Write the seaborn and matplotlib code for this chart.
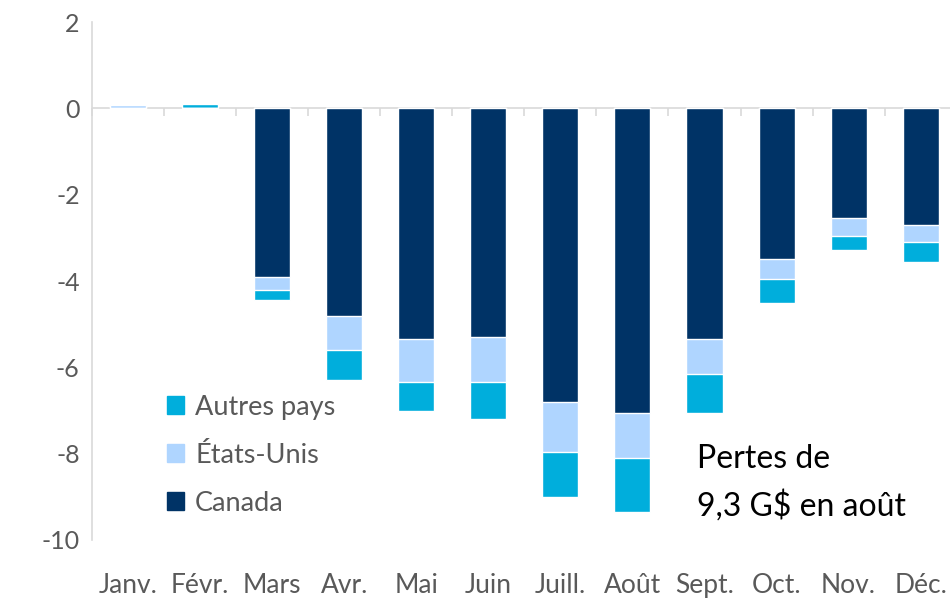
import numpy as np
import pandas as pd
import matplotlib
matplotlib.use("Agg")
import matplotlib.pyplot as plt
from matplotlib.patches import Patch
import seaborn as sns

# monthly losses by destination (G$)
months = ['Janv.', 'Févr.', 'Mars', 'Avr.', 'Mai', 'Juin', 'Juill.', 'Août',
          'Sept.', 'Oct.', 'Nov.', 'Déc.']
canada = [0.0, 0.0, -3.9, -4.8, -5.35, -5.3, -6.8, -7.05, -5.35, -3.5, -2.55, -2.7]
etats_unis = [0.07, 0.02, -0.3, -0.8, -1.0, -1.05, -1.15, -1.05, -0.8, -0.45, -0.4, -0.4]
autres = [0.0, 0.08, -0.25, -0.7, -0.65, -0.85, -1.05, -1.25, -0.9, -0.55, -0.33, -0.45]

col_canada = '#003366'
col_eu = '#AFD5FF'
col_autres = '#00AEDC'
col_axis = '#D9D9D9'

df = pd.DataFrame({'mois': months, 'Canada': canada,
                   'États-Unis': etats_unis, 'Autres pays': autres})
# cumulative levels for stacking (drawn largest first)
df['c1'] = df['Canada']
df['c2'] = df['c1'] + df['États-Unis']
df['c3'] = df['c2'] + df['Autres pays']

sns.set_style("white")
plt.rcParams['font.family'] = ['Lato', 'DejaVu Sans']
plt.rcParams['axes.unicode_minus'] = False

fig = plt.figure(figsize=(9.5, 5.98), dpi=100)
ax = fig.add_axes([0.097, 0.097, 0.91, 0.866])

sns.barplot(data=df, x='mois', y='c3', color=col_autres, width=0.5,
            saturation=1, ax=ax)
sns.barplot(data=df, x='mois', y='c2', color=col_eu, width=0.5,
            saturation=1, ax=ax)
sns.barplot(data=df, x='mois', y='c1', color=col_canada, width=0.5,
            saturation=1, ax=ax)

ax.set_ylim(-10, 2)
ax.set_xlim(-0.5, 11.5)
ax.set_yticks(np.arange(-10, 3, 2))
ax.set_xlabel('')
ax.set_ylabel('')

ax.spines['top'].set_visible(False)
ax.spines['right'].set_visible(False)
ax.spines['bottom'].set_visible(False)
ax.spines['left'].set_color(col_axis)
ax.spines['left'].set_linewidth(1.2)
ax.tick_params(axis='y', length=0, labelsize=18, labelcolor='#595959', pad=9)
ax.tick_params(axis='x', length=0, labelsize=19, labelcolor='#595959', pad=24)

# zero line with small separators between months
ax.axhline(0, color=col_axis, lw=1.2, zorder=0.5)
sep = np.arange(-0.5, len(months), 1)
ax.vlines(sep, -0.17, 0, colors=col_axis, lw=1.2, clip_on=False, zorder=0.5)

handles = [Patch(color=col_autres, label='Autres pays'),
           Patch(color=col_eu, label='États-Unis'),
           Patch(color=col_canada, label='Canada')]
leg = ax.legend(handles=handles, loc='lower left', bbox_to_anchor=(0.058, 0.0),
                frameon=False, fontsize=19.5, handlelength=0.65, handleheight=0.65,
                handletextpad=0.4, labelspacing=0.85, labelcolor='#595959')

ax.text(0.70, 0.035, 'Pertes de\n9,3 G$ en août', transform=ax.transAxes,
        fontsize=23, color='black', ha='left', va='bottom', linespacing=1.6)

fig.savefig('out.png', dpi=100)
